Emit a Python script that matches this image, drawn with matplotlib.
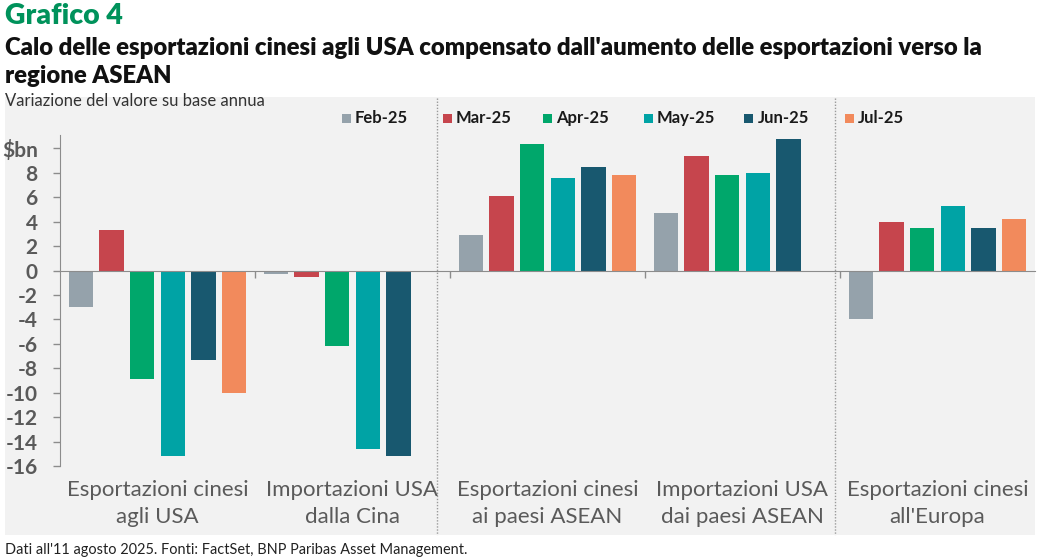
import matplotlib
matplotlib.use('Agg')
import matplotlib.pyplot as plt
from matplotlib.patches import Rectangle
from matplotlib.lines import Line2D
import matplotlib.transforms as mtransforms
import numpy as np

# ---------------- data ----------------
categories = ["Esportazioni cinesi\nagli USA",
              "Importazioni USA\ndalla Cina",
              "Esportazioni cinesi\nai paesi ASEAN",
              "Importazioni USA\ndai paesi ASEAN",
              "Esportazioni cinesi\nall'Europa"]
series_names = ["Feb-25", "Mar-25", "Apr-25", "May-25", "Jun-25", "Jul-25"]
feb25 = [-3.0, -0.25, 2.9, 4.7, -4.0]
mar25 = [3.3, -0.55, 6.1, 9.35, 4.0]
apr25 = [-8.85, -6.2, 10.4, 7.85, 3.5]
may25 = [-15.2, -14.6, 7.55, 8.0, 5.3]
jun25 = [-7.35, -15.2, 8.45, 10.75, 3.45]
jul25 = [-10.0, np.nan, 7.8, np.nan, 4.2]
series_values = [feb25, mar25, apr25, may25, jun25, jul25]
colors = ["#95a2ab", "#c6454d", "#00a76b", "#00a3a5", "#18586f", "#f28a5c"]
y_ticks = [-16, -14, -12, -10, -8, -6, -4, -2, 0, 2, 4, 6, 8, 10]
y_tick_labels = ["-16", "-14", "-12", "-10", "-8", "-6", "-4", "-2", "0", "2", "4", "6", "8", "\\$bn"]

title_main = "Grafico 4"
title_lines = ["Calo delle esportazioni cinesi agli USA compensato dall'aumento delle esportazioni verso la",
               "regione ASEAN"]
subtitle = "Variazione del valore su base annua"
footer = "Dati all'11 agosto 2025. Fonti: FactSet, BNP Paribas Asset Management."

# ---------------- figure ----------------
W, H = 1039, 560
fig = plt.figure(figsize=(W / 100, H / 100), dpi=100)
fig.patch.set_facecolor("white")
FONT = ["Lato", "DejaVu Sans"]

def fx(px):
    return px / W

def fy(py):
    return 1 - py / H

# grey panel
fig.patches.append(Rectangle((fx(5), fy(535)), fx(1035) - fx(5), fy(97) - fy(535),
                             transform=fig.transFigure, facecolor="#f2f2f2",
                             edgecolor="none", zorder=-5))

ax = fig.add_axes([fx(60), fy(466), fx(1035) - fx(60), fy(135) - fy(466)])
ax.set_facecolor("none")
ax.set_zorder(1)

n_ser = len(series_names)
slot = 0.94 / n_ser
bw = 0.125
x = np.arange(len(categories))
for j, (vals, col) in enumerate(zip(series_values, colors)):
    ax.bar(x + (j - (n_ser - 1) / 2) * slot, vals, width=bw, color=col, zorder=3)

ax.set_xlim(-0.5, len(categories) - 0.5)
ax.set_ylim(-16, 11.1)

for s in ["top", "right"]:
    ax.spines[s].set_visible(False)
ax.spines["left"].set_color("#8c8c8c")
ax.spines["bottom"].set_position(("data", 0))
ax.spines["bottom"].set_color("#8c8c8c")
ax.spines["bottom"].set_zorder(4)

ax.set_yticks(y_ticks)
ax.set_yticklabels(y_tick_labels)
ax.tick_params(axis="y", direction="out", length=5, width=1, color="#8c8c8c",
               pad=11, labelsize=15, labelcolor="#5a5a5a")
for lab in ax.get_yticklabels():
    lab.set_fontfamily(FONT)
    lab.set_fontweight("bold")

ax.set_xticks(np.arange(len(categories) - 1) + 0.5)
ax.set_xticklabels([])
ax.tick_params(axis="x", direction="out", length=5, width=1, color="#8c8c8c")

# category labels
blend = mtransforms.blended_transform_factory(ax.transData, fig.transFigure)
for i, lab in enumerate(categories):
    ax.text(i, fy(480), lab, transform=blend, ha="center", va="top",
            fontsize=16, color="#5a5a5a", family=FONT, linespacing=1.42)

# dotted separators
for xs in [1.433, 3.474]:
    fig.add_artist(Line2D([xs, xs], [fy(98), fy(535)], transform=blend,
                          color="#9a9a9a", linestyle=(0, (1, 1.2)), linewidth=1))

# legend
for j, (name, col) in enumerate(zip(series_names, colors)):
    x0 = 342 + j * 100.6
    fig.patches.append(Rectangle((fx(x0), fy(123)), fx(9), fy(114) - fy(123),
                                 transform=fig.transFigure, facecolor=col,
                                 edgecolor="none", zorder=3))
    fig.text(fx(x0 + 13), fy(118), name, ha="left", va="center", fontsize=12,
             family=FONT, fontweight="bold", color="#1a1a1a")

# titles
fig.text(fx(5), fy(16), title_main, ha="left", va="center", fontsize=20.5,
         family=FONT, fontweight="heavy", color="#00925b")
for k, line in enumerate(title_lines):
    fig.text(fx(5), fy(48 + 28 * k), line, ha="left", va="center", fontsize=17.2,
             family=FONT, fontweight="heavy", color="#111111")
fig.text(fx(5), fy(101), subtitle, ha="left", va="center", fontsize=12,
         family=FONT, color="#333333")
fig.text(fx(5), fy(550), footer, ha="left", va="center", fontsize=10.45,
         family=FONT, color="#222222")

fig.savefig("out.png", dpi=100, facecolor="white")
